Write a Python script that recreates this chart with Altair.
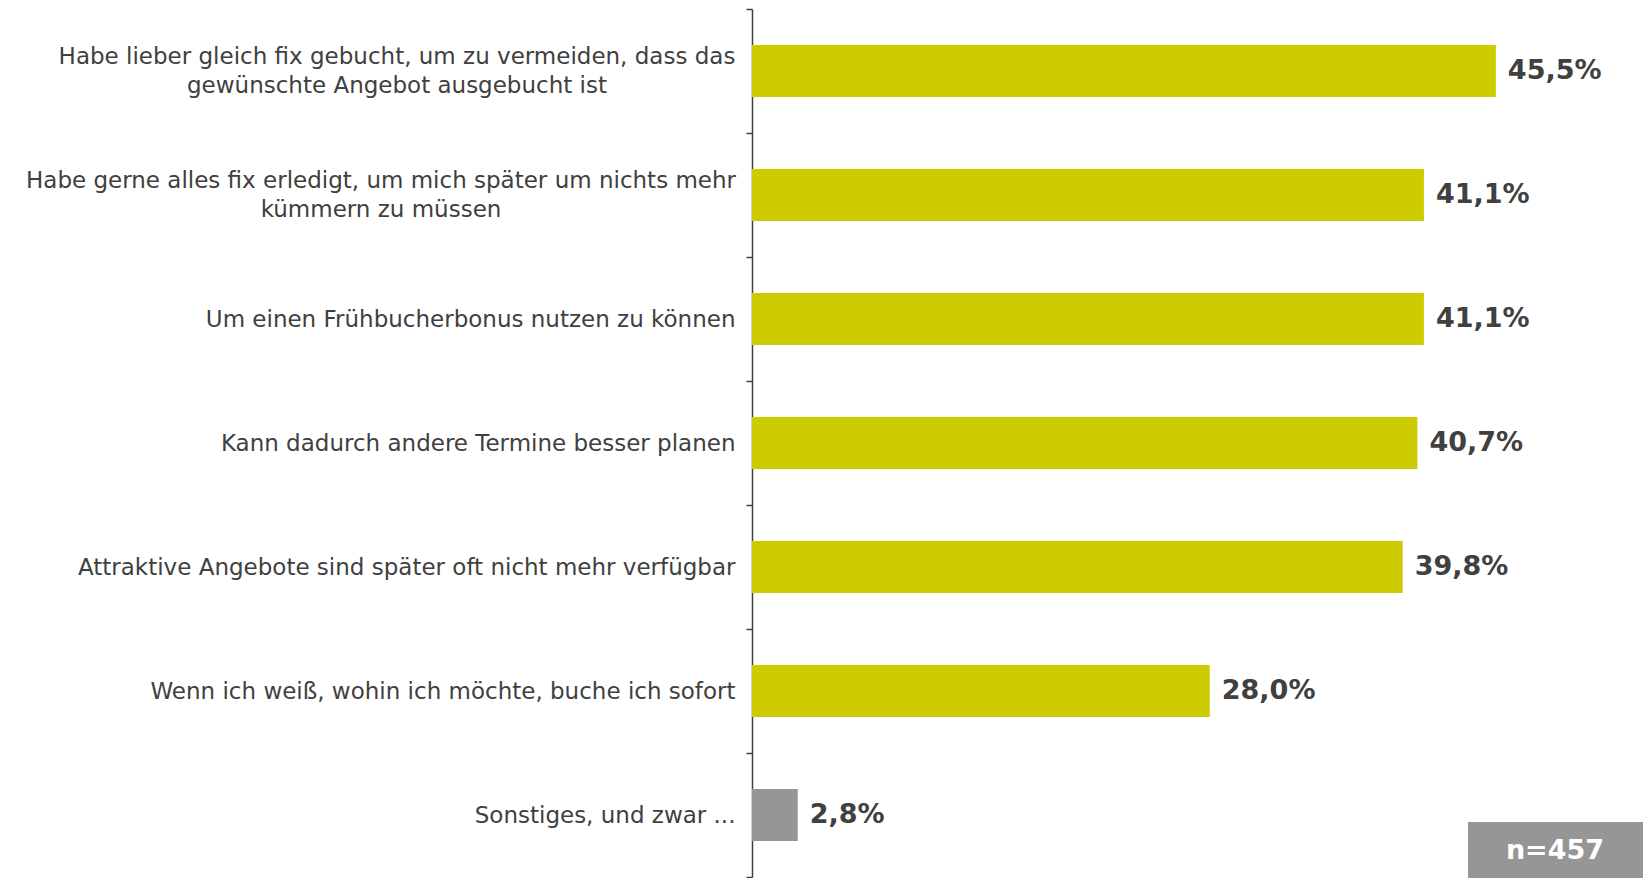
import altair as alt
import pandas as pd

categories = [
    "Habe lieber gleich fix gebucht, um zu vermeiden, dass das\ngewünschte Angebot ausgebucht ist",
    "Habe gerne alles fix erledigt, um mich später um nichts mehr\nkümmern zu müssen",
    "Um einen Frühbucherbonus nutzen zu können",
    "Kann dadurch andere Termine besser planen",
    "Attraktive Angebote sind später oft nicht mehr verfügbar",
    "Wenn ich weiß, wohin ich möchte, buche ich sofort",
    "Sonstiges, und zwar ...",
]
values = [45.5, 41.1, 41.1, 40.7, 39.8, 28.0, 2.8]
groups = ["main", "main", "main", "main", "main", "main", "other"]
n_label = "n=457"

df = pd.DataFrame({"cat": categories, "val": values, "grp": groups})

W, H = 891, 868
FONT = "DejaVu Sans"
TXT = "#404040"
LABEL_SIZE = 23
LINE_H = 29
# horizontal centre (px, left of the axis) of each two-line label block
two_line_centres = {categories[0]: -355, categories[1]: -371}

x_enc = alt.X("val:Q", scale=alt.Scale(domain=[0, 54.5], nice=False, zero=True), axis=None)
y_enc = alt.Y(
    "cat:N",
    sort=categories,
    scale=alt.Scale(paddingInner=0, paddingOuter=0),
    axis=alt.Axis(
        title=None,
        tickBand="extent",
        tickSize=6,
        tickWidth=1.5,
        tickColor=TXT,
        domainColor=TXT,
        domainWidth=1.5,
        labelFont=FONT,
        labelFontSize=LABEL_SIZE,
        labelColor=TXT,
        labelPadding=11,
        labelLimit=900,
        labelExpr="indexof(datum.label, '\\n') >= 0 ? '' : datum.label",
        grid=False,
    ),
)

base = alt.Chart(df)

bars = base.mark_bar(size=52).encode(
    x=x_enc,
    y=y_enc,
    color=alt.Color(
        "grp:N",
        scale=alt.Scale(domain=["main", "other"], range=["#CCCC00", "#969696"]),
        legend=None,
    ),
)

labels = base.transform_calculate(
    lbl="replace(format(datum.val, '.1f'), '.', ',') + '%'"
).mark_text(
    align="left", baseline="middle", dx=12, font=FONT, fontSize=27,
    fontWeight="bold", color=TXT,
).encode(x=x_enc, y=y_enc, text="lbl:N")

two_line_layers = []
for cat, cx in two_line_centres.items():
    two_line_layers.append(
        base.transform_filter(alt.FieldEqualPredicate(field="cat", equal=cat))
        .transform_calculate(lines="split(datum.cat, '\\n')")
        .mark_text(
            align="center", baseline="middle", font=FONT, fontSize=LABEL_SIZE,
            lineHeight=LINE_H, dy=-LINE_H / 2, color=TXT,
        )
        .encode(x=alt.value(cx), y=y_enc, text="lines:N")
    )

ndf = pd.DataFrame({"t": [n_label]})
box = alt.Chart(ndf).mark_rect(color="#969696").encode(
    x=alt.value(716), x2=alt.value(891), y=alt.value(813), y2=alt.value(869)
)
boxtext = alt.Chart(ndf).mark_text(
    align="center", baseline="middle", color="white", font=FONT,
    fontSize=27, fontWeight="bold",
).encode(x=alt.value(803), y=alt.value(842), text="t:N")

chart = alt.layer(bars, labels, *two_line_layers, box, boxtext).properties(
    width=W,
    height=H,
    autosize="none",
    padding={"left": 744, "top": 1, "right": 0, "bottom": 1},
).configure_view(stroke=None)

chart.save("out.html", embed_options={"renderer": "svg", "actions": False})
